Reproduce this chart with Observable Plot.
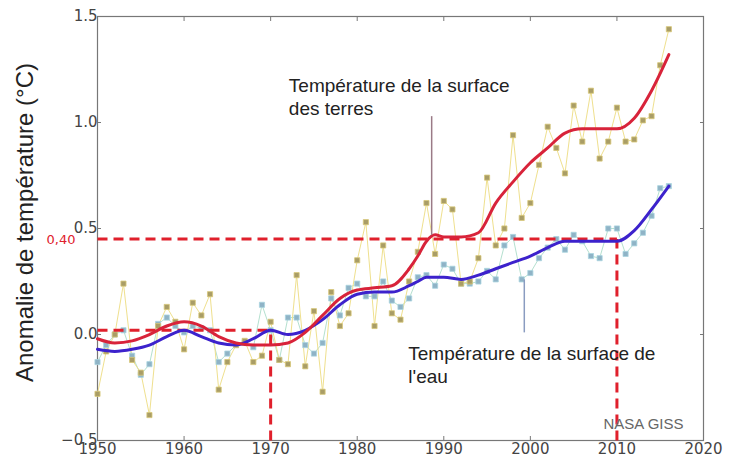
<!DOCTYPE html>
<html><head><meta charset="utf-8">
<script src="https://cdn.jsdelivr.net/npm/d3@7"></script>
<script src="https://cdn.jsdelivr.net/npm/@observablehq/plot@0.6"></script>
<style>
body{margin:0;background:#fff;}
svg{font-family:"DejaVu Sans",sans-serif;}
</style>
</head><body>
<div id="chart"></div>
<script>
const years = d3.range(1950, 2017);
const land = [-0.28,-0.08,0.00,0.24,-0.12,-0.18,-0.38,0.04,0.13,0.06,
  -0.07,0.15,0.09,0.19,-0.26,-0.13,-0.05,-0.03,-0.13,-0.10,
  0.06,-0.12,-0.14,0.28,-0.15,0.11,-0.27,0.20,0.04,0.10,
  0.35,0.53,0.04,0.42,0.10,0.07,0.25,0.39,0.62,0.38,
  0.63,0.59,0.24,0.25,0.36,0.74,0.42,0.50,0.94,0.55,
  0.62,0.80,0.98,0.88,0.76,1.08,0.91,1.15,0.83,0.91,
  1.07,0.91,0.92,1.01,1.03,1.27,1.44];
const ocean = [-0.13,-0.05,0.00,0.02,-0.10,-0.19,-0.14,0.05,0.08,0.04,
  0.01,0.04,0.03,0.02,-0.13,-0.09,-0.05,-0.04,-0.06,0.14,
  0.02,-0.12,0.08,0.08,-0.05,-0.09,-0.04,0.17,0.09,0.22,
  0.24,0.18,0.18,0.25,0.16,0.13,0.17,0.27,0.28,0.23,
  0.33,0.31,0.24,0.24,0.25,0.30,0.26,0.42,0.46,0.26,
  0.29,0.36,0.41,0.45,0.40,0.47,0.44,0.37,0.36,0.50,
  0.50,0.38,0.43,0.48,0.56,0.69,0.70];
const smoothYears = [1950,1952,1954,1956,1958,1960,1962,1964,1966,1968,1970,1972,1974,1976,1978,1980,1982,1984,1986,1987,1988,1989,1990,1992,1994,1996,1998,2000,2002,2004,2006,2008,2010,2012,2014,2016];
const landSmooth = [-0.02,-0.04,-0.03,0.00,0.04,0.06,0.04,-0.01,-0.04,-0.05,-0.05,-0.04,0.01,0.09,0.17,0.21,0.22,0.23,0.31,0.37,0.44,0.47,0.46,0.46,0.48,0.62,0.72,0.81,0.88,0.95,0.97,0.97,0.97,1.02,1.15,1.32];
const oceanSmooth = [-0.07,-0.08,-0.07,-0.05,-0.01,0.02,-0.01,-0.04,-0.05,-0.02,0.02,0.00,0.02,0.07,0.14,0.19,0.20,0.20,0.23,0.25,0.27,0.27,0.27,0.26,0.28,0.31,0.34,0.37,0.41,0.44,0.44,0.44,0.44,0.49,0.59,0.70];
const xTicks = [1950,1960,1970,1980,1990,2000,2010,2020];
const yTicks = [-0.5,0.0,0.5,1.0,1.5];
// reference dashed lines: [x1, y1, x2, y2]
const refLines = [[1950,0.45,2010,0.45],[1950,0.02,1970,0.02],[1970,-0.5,1970,0.02],[2010,-0.5,2010,0.45]];
const refLabel = "0,40";
const annotations = [
  {x:1972.1, y:1.22, text:"Température de la surface\ndes terres"},
  {x:1985.9, y:-0.045, text:"Température de la surface de\nl'eau"}
];
const pointers = [[1988.6,1.03,1988.6,0.47,"#9a7a86"],[1999.3,0.26,1999.3,0.01,"#8a9cc0"]];
const source = "NASA GISS";
const yTitle = "Anomalie de température (°C)";

const landData = years.map((t,i)=>({t, v:land[i]}));
const oceanData = years.map((t,i)=>({t, v:ocean[i]}));
const landS = smoothYears.map((t,i)=>({t, v:landSmooth[i]}));
const oceanS = smoothYears.map((t,i)=>({t, v:oceanSmooth[i]}));
const refs = refLines.map(([x1,y1,x2,y2])=>({x1,y1,x2,y2}));
const ptrs = pointers.map(([x1,y1,x2,y2,c])=>({x1,y1,x2,y2,c}));
const sans = '"Liberation Sans",Arial,sans-serif';

const chart = Plot.plot({
  width: 733, height: 461,
  marginLeft: 97, marginRight: 30, marginTop: 16, marginBottom: 21,
  x: {domain:[1950,2020]},
  y: {domain:[-0.5,1.5]},
  style: {fontFamily:'"DejaVu Sans",sans-serif', fontSize:"15px", color:"#444", background:"#fff"},
  marks: [
    Plot.frame({stroke:"#777", strokeWidth:1.2}),
    Plot.axisX({ticks:xTicks, tickFormat:d=>String(d), tickSize:-4, tickPadding:7, fontSize:15, stroke:"#777"}),
    Plot.axisX({ticks:xTicks, anchor:"top", tickSize:-4, tickFormat:()=>"", stroke:"#777"}),
    Plot.axisY({ticks:yTicks, tickFormat:d=>d.toFixed(1).replace("-","\u2212"), tickSize:-4, tickPadding:4, fontSize:15, stroke:"#777", label:null}),
    Plot.axisY({ticks:yTicks, anchor:"right", tickSize:-4, tickFormat:()=>"", stroke:"#777", label:null}),
    Plot.line(oceanData, {x:"t", y:"v", stroke:"#b4e0cf", strokeWidth:1}),
    Plot.line(landData, {x:"t", y:"v", stroke:"#efe08e", strokeWidth:1}),
    Plot.dot(oceanData, {x:"t", y:"v", symbol:"square", r:2.9, fill:"#8fb3c6", stroke:"#a9d4e0", strokeWidth:0.8}),
    Plot.dot(landData, {x:"t", y:"v", symbol:"square", r:2.9, fill:"#a99d66", stroke:"#d8c878", strokeWidth:0.8}),
    Plot.link(refs, {x1:"x1", y1:"y1", x2:"x2", y2:"y2", stroke:"#e0202c", strokeWidth:3, strokeDasharray:"10,6"}),
    Plot.line(oceanS, {x:"t", y:"v", stroke:"#3c22cc", strokeWidth:3, curve:"monotone-x"}),
    Plot.line(landS, {x:"t", y:"v", stroke:"#d8233a", strokeWidth:3, curve:"monotone-x"}),
    Plot.link(ptrs, {x1:"x1", y1:"y1", x2:"x2", y2:"y2", stroke:"c", strokeWidth:1.5}),
    Plot.text(annotations, {x:"x", y:"y", text:"text", textAnchor:"start", lineAnchor:"top", lineHeight:1.2, fontSize:19, fill:"#222", fontFamily:sans}),
    Plot.text([source], {frameAnchor:"bottom-right", text:d=>d, dx:-20, dy:-12, fontSize:15, fill:"#666", fontFamily:sans}),
    Plot.text([refLabel], {x:()=>1950, y:()=>0.45, text:d=>d, textAnchor:"end", dx:-22, dy:1, fontSize:13, fill:"#e0202c", fontFamily:'"DejaVu Sans",sans-serif'}),
    Plot.text([yTitle], {frameAnchor:"left", text:d=>d, rotate:-90, textAnchor:"middle", dx:-72, dy:-6, fontSize:24, fill:"#222", fontFamily:sans})
  ]
});
document.getElementById("chart").appendChild(chart);
</script>
</body></html>
